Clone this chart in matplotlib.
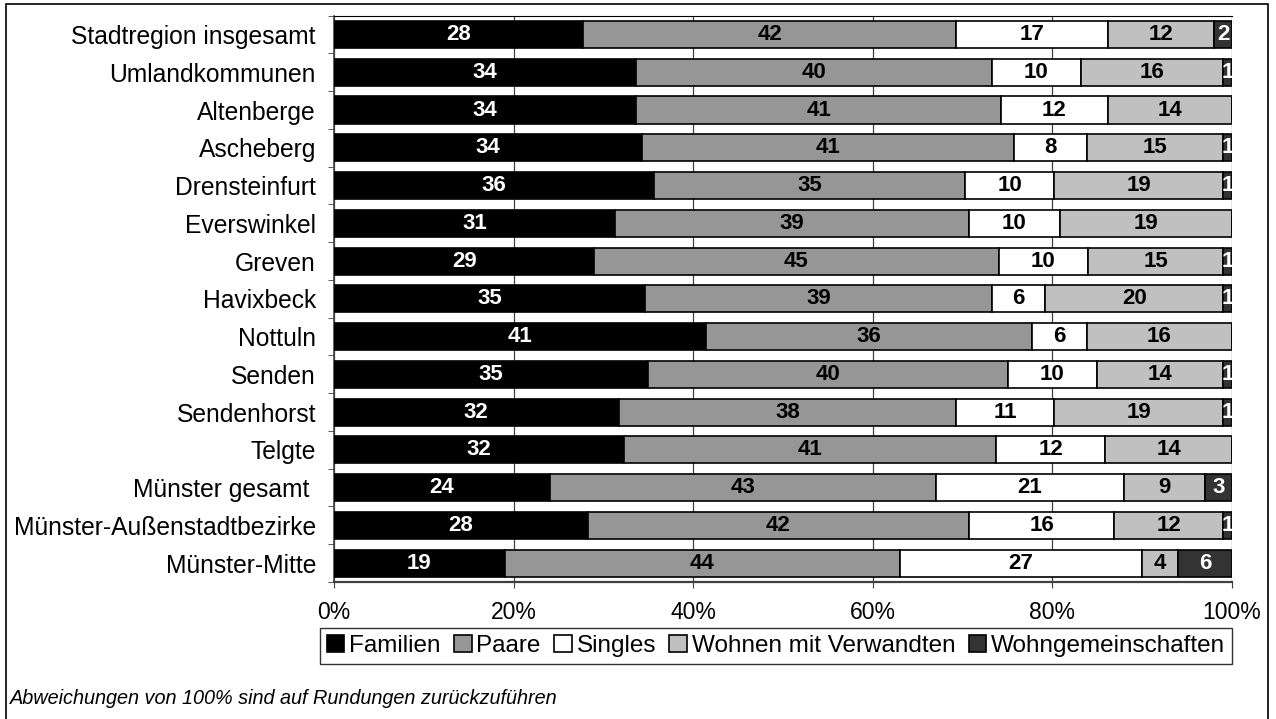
import matplotlib
matplotlib.use("Agg")
import matplotlib.pyplot as plt
import numpy as np
from matplotlib.patches import Rectangle

plt.rcParams['font.family'] = ['Liberation Sans', 'DejaVu Sans']

categories = ["Stadtregion insgesamt", "Umlandkommunen", "Altenberge", "Ascheberg",
              "Drensteinfurt", "Everswinkel", "Greven", "Havixbeck", "Nottuln", "Senden",
              "Sendenhorst", "Telgte", "Münster gesamt ", "Münster-Außenstadtbezirke",
              "Münster-Mitte"]
series = ["Familien", "Paare", "Singles", "Wohnen mit Verwandten", "Wohngemeinschaften"]
familien = [28, 34, 34, 34, 36, 31, 29, 35, 41, 35, 32, 32, 24, 28, 19]
paare = [42, 40, 41, 41, 35, 39, 45, 39, 36, 40, 38, 41, 43, 42, 44]
singles = [17, 10, 12, 8, 10, 10, 10, 6, 6, 10, 11, 12, 21, 16, 27]
verwandte = [12, 16, 14, 15, 19, 19, 15, 20, 16, 14, 19, 14, 9, 12, 4]
wg = [2, 1, 0, 1, 1, 0, 1, 1, 0, 1, 1, 0, 3, 1, 6]
xticks = [0, 20, 40, 60, 80, 100]
xticklabels = ["0%", "20%", "40%", "60%", "80%", "100%"]

colors = ["#000000", "#969696", "#ffffff", "#c0c0c0", "#333333"]
textcolors = ["white", "black", "black", "black", "white"]

data = np.array([familien, paare, singles, verwandte, wg], dtype=float)
totals = data.sum(axis=0)
shares = data / totals * 100

fig = plt.figure(figsize=(12.76, 7.19), dpi=100)
ax = fig.add_axes([334/1276, 1-582/719, (1232-334)/1276, (582-15.7)/719])

y = np.arange(len(categories))
left = np.zeros(len(categories))
handles = []
for i, name in enumerate(series):
    bars = ax.barh(y, shares[i], left=left, height=0.72, color=colors[i],
                   edgecolor="black", linewidth=1.2, zorder=3, label=name)
    handles.append(bars)
    for j in range(len(categories)):
        if data[i, j] > 0:
            ax.text(left[j] + shares[i, j] / 2, y[j] + 0.0, f"{int(data[i, j])}",
                    ha="center", va="center", color=textcolors[i],
                    fontsize=16, fontweight="bold", zorder=4)
    left += shares[i]

ax.set_xlim(0, 100)
ax.set_ylim(len(categories) - 0.5, -0.5)
ax.set_xticks(xticks)
ax.set_xticklabels(xticklabels, fontsize=16.5)
ax.set_yticks(y)
ax.set_yticklabels(categories, fontsize=17.7)
ax.tick_params(axis="y", length=0, pad=13)
ax.set_yticks(np.arange(-0.5, len(categories)), minor=True)
ax.tick_params(axis="y", which="minor", length=4, direction="out", color="#404040")
ax.tick_params(axis="x", length=4, direction="out", color="#404040", pad=10)
ax.grid(axis="x", color="#404040", linewidth=0.9, zorder=0)
ax.set_axisbelow(True)
ax.spines["right"].set_visible(False)
ax.spines["top"].set_color("black")
ax.spines["top"].set_linewidth(0.8)
ax.spines["left"].set_color("#404040")
ax.spines["left"].set_linewidth(1.2)
ax.spines["bottom"].set_color("#404040")
ax.spines["bottom"].set_linewidth(1.6)

leg = fig.legend(handles=handles, labels=series, loc="center",
                 bbox_to_anchor=(776/1276, 1-646/719), ncol=5, fontsize=17.5,
                 frameon=True, fancybox=False, edgecolor="black",
                 handlelength=0.72, handleheight=0.72, handletextpad=0.2,
                 columnspacing=0.55, borderpad=0.3, borderaxespad=0)
leg.get_frame().set_linewidth(1.0)

fig.text(10/1276, 1-699/719, "Abweichungen von 100% sind auf Rundungen zurückzuführen",
         fontsize=14.3, style="italic", ha="left", va="center")

fig.patches.append(Rectangle((6/1276, -0.01), (1268-6)/1276, 1 - 4/719 + 0.01,
                             transform=fig.transFigure, fill=False,
                             edgecolor="black", linewidth=1.2))

fig.savefig("out.png", dpi=100)
